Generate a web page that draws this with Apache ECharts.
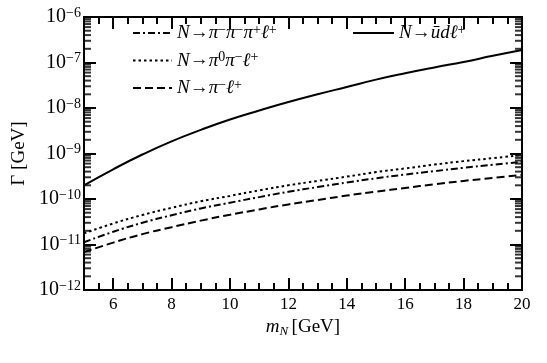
<!DOCTYPE html>
<html>
<head>
<meta charset="utf-8">
<script src="https://cdn.jsdelivr.net/npm/echarts@6/dist/echarts.min.js"></script>
<style>
  html, body { margin: 0; padding: 0; background: #fff; }
  #chart { width: 547px; height: 363px; }
</style>
</head>
<body>
<div id="chart"></div>
<script>
// m_N values (GeV)
const mN = [5, 6, 7, 8, 9, 10, 11, 12, 13, 14, 15, 16, 17, 18, 19, 20];

// decay widths (GeV)
const udl = [2.0e-10, 4.5e-10, 9.5e-10, 1.85e-9, 3.3e-9, 5.6e-9, 8.8e-9, 1.35e-8,
             2.0e-8, 2.9e-8, 4.2e-8, 5.8e-8, 7.8e-8, 1.03e-7, 1.4e-7, 1.88e-7];
const pi3 = [1.12e-11, 1.9e-11, 3.0e-11, 4.4e-11, 6.2e-11, 8.3e-11, 1.1e-10, 1.44e-10,
             1.83e-10, 2.3e-10, 2.85e-10, 3.45e-10, 4.1e-10, 4.85e-10, 5.65e-10, 6.6e-10];
const pi0 = [1.76e-11, 2.9e-11, 4.45e-11, 6.4e-11, 8.9e-11, 1.17e-10, 1.55e-10, 2.0e-10,
             2.5e-10, 3.1e-10, 3.9e-10, 4.7e-10, 5.7e-10, 6.8e-10, 7.9e-10, 9.3e-10];
const pi1 = [6.8e-12, 1.1e-11, 1.69e-11, 2.4e-11, 3.35e-11, 4.5e-11, 5.9e-11, 7.6e-11,
             9.5e-11, 1.19e-10, 1.45e-10, 1.75e-10, 2.1e-10, 2.5e-10, 2.9e-10, 3.4e-10];

// axis ranges, y minor ticks (2..9 in each decade)
const xMin = 5, xMax = 20;
const yMin = 1e-12, yMax = 1e-6;
const decades = [-12, -11, -10, -9, -8, -7];
const minorMult = [2, 3, 4, 5, 6, 7, 8, 9];
const yMinorTicks = [];
decades.forEach(d => minorMult.forEach(m => yMinorTicks.push(m * Math.pow(10, d))));

const FONT = 'Liberation Serif';
const MAJOR = 12, MINOR = 7, TW = 2;

const legendText = {
  pi3: '{i|N}{n|→}{i|π}{s|−}{i|π}{s|−}{i|π}{s|+}{i|ℓ}{s|+}',
  pi0: '{i|N}{n|→}{i|π}{s|0}{i|π}{s|−}{i|ℓ}{s|+}',
  pi1: '{i|N}{n|→}{i|π}{s|−}{i|ℓ}{s|+}',
  udl: '{i|N}{n|→}{i|ū}{i|d}{i|ℓ}{s|+}'
};

const legendRich = {
  i: { fontFamily: FONT, fontStyle: 'italic', fontSize: 19, lineHeight: 20, color: '#000' },
  n: { fontFamily: FONT, fontSize: 19, lineHeight: 20, color: '#000' },
  s: { fontFamily: FONT, fontSize: 14, lineHeight: 12, verticalAlign: 'top', color: '#000' }
};

const tickLine = { color: '#000', width: TW };

// y minor ticks as thin rect symbols on both sides
const yTickItems = [];
yMinorTicks.forEach(v => {
  yTickItems.push({ value: [xMin, v], symbolSize: [MINOR, TW], symbolOffset: [MINOR / 2, 0] });
  yTickItems.push({ value: [xMax, v], symbolSize: [MINOR, TW], symbolOffset: [-MINOR / 2, 0] });
});

function lineSeries(name, data, type) {
  return {
    name: name,
    type: 'line',
    data: mN.map((m, i) => [m, data[i]]),
    symbol: 'none',
    smooth: true,
    lineStyle: { color: '#000', width: 2, type: type },
    itemStyle: { color: '#000' },
    z: 3
  };
}

function xAxisOpt(pos, showLabel) {
  return {
    type: 'value',
    position: pos,
    min: xMin, max: xMax,
    splitNumber: 7, minInterval: 2, maxInterval: 2,
    axisLine: { show: false },
    axisTick: { show: true, inside: true, length: MAJOR, lineStyle: tickLine },
    minorTick: { show: true, splitNumber: 4, length: MINOR, lineStyle: tickLine },
    splitLine: { show: false },
    axisLabel: {
      show: showLabel,
      showMinLabel: false,
      margin: 6,
      fontFamily: FONT, fontSize: 17, color: '#000'
    }
  };
}

function yAxisOpt(pos, showLabel) {
  return {
    type: 'log',
    logBase: 10,
    position: pos,
    min: yMin, max: yMax,
    splitNumber: 6,
    axisLine: { show: false },
    axisTick: { show: true, inside: true, length: MAJOR, lineStyle: tickLine },
    splitLine: { show: false },
    axisLabel: {
      show: showLabel,
      margin: 3,
      formatter: v => {
        const e = Math.round(Math.log10(v));
        return '{b|10}{s|' + (e < 0 ? '−' + (-e) : e) + '}';
      },
      rich: {
        b: { fontFamily: FONT, fontSize: 20, lineHeight: 22, color: '#000' },
        s: { fontFamily: FONT, fontSize: 14, lineHeight: 14, verticalAlign: 'top', color: '#000' }
      }
    }
  };
}

const xBottom = Object.assign(xAxisOpt('bottom', true), {
  name: '{i|m}{sub|N} {n|[GeV]}',
  nameLocation: 'middle',
  nameGap: 23,
  nameTextStyle: {
    rich: {
      i: { fontFamily: FONT, fontStyle: 'italic', fontSize: 19, lineHeight: 22, color: '#000' },
      sub: { fontFamily: FONT, fontStyle: 'italic', fontSize: 13, lineHeight: 13, verticalAlign: 'bottom', color: '#000' },
      n: { fontFamily: FONT, fontSize: 19, lineHeight: 22, color: '#000' }
    }
  }
});

const yLeft = Object.assign(yAxisOpt('left', true), {
  name: 'Γ [GeV]',
  nameLocation: 'middle',
  nameGap: 46,
  nameTextStyle: { fontFamily: FONT, fontSize: 19, color: '#000' }
});

const chart = echarts.init(document.getElementById('chart'));
chart.setOption({
  animation: false,
  grid: {
    left: 84, right: 25, top: 17, bottom: 73,
    show: true, borderColor: '#000', borderWidth: 2
  },
  legend: [
    {
      data: ['pi3', 'pi0', 'pi1'],
      orient: 'vertical',
      left: 127, top: 18,
      itemWidth: 39, itemHeight: 14, itemGap: 8,
      itemStyle: { opacity: 0 },
      formatter: name => legendText[name],
      textStyle: { rich: legendRich }
    },
    {
      data: ['udl'],
      orient: 'vertical',
      left: 347, top: 18,
      itemWidth: 41, itemHeight: 14,
      itemStyle: { opacity: 0 },
      formatter: name => legendText[name],
      textStyle: { rich: legendRich }
    }
  ],
  xAxis: [xBottom, xAxisOpt('top', false)],
  yAxis: [yLeft, yAxisOpt('right', false)],
  series: [
    lineSeries('pi3', pi3, [7, 3, 2, 3]),
    lineSeries('pi0', pi0, [2.5, 3]),
    lineSeries('pi1', pi1, [8, 4]),
    lineSeries('udl', udl, 'solid'),
    {
      name: 'yminor',
      type: 'scatter',
      symbol: 'rect',
      clip: false,
      itemStyle: { color: '#000' },
      data: yTickItems,
      z: 4
    }
  ]
});
</script>
</body>
</html>
